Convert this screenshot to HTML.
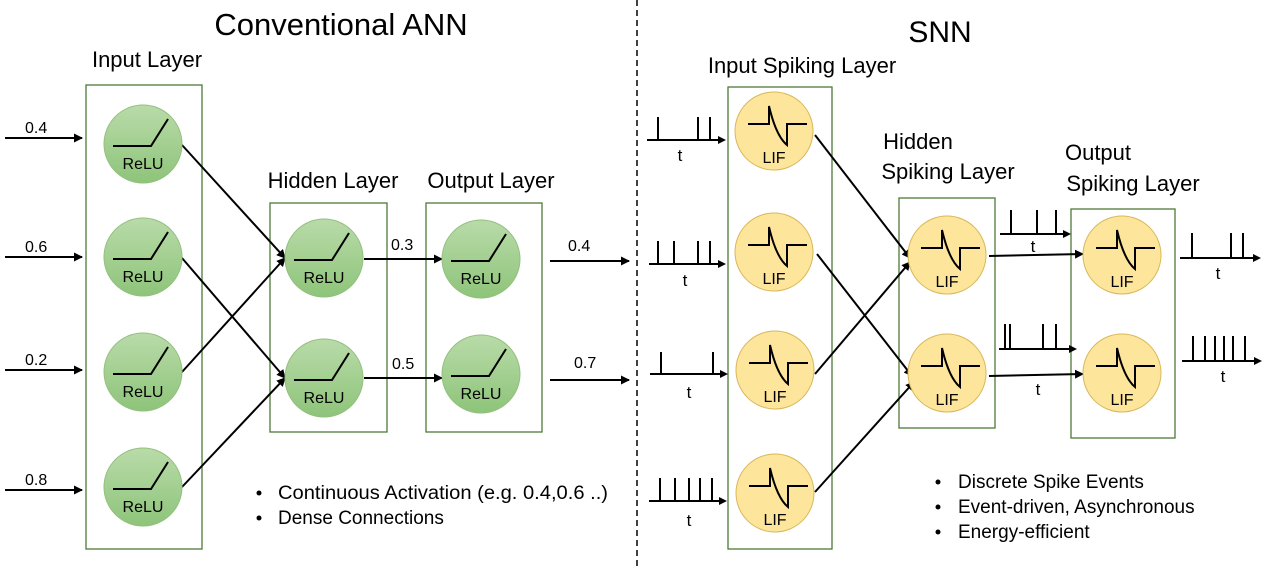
<!DOCTYPE html>
<html><head><meta charset="utf-8"><style>
html,body{margin:0;padding:0;background:#fff;}
svg{display:block;font-family:"Liberation Sans","DejaVu Sans",sans-serif;}
</style></head><body>
<svg width="1262" height="569" viewBox="0 0 1262 569" xmlns="http://www.w3.org/2000/svg">
<defs>
<linearGradient id="g" x1="0" y1="0" x2="0" y2="1"><stop offset="0" stop-color="#b9dba9"/><stop offset="1" stop-color="#8ec47a"/></linearGradient>
<marker id="a" markerWidth="9" markerHeight="9" refX="8" refY="4.5" orient="auto" markerUnits="userSpaceOnUse"><path d="M0,0 L9,4.5 L0,9 z" fill="#000"/></marker>
<g id="relu"><circle r="39" fill="url(#g)" stroke="#93c07f" stroke-width="1"/><path d="M-30,2 H8 L25,-25" fill="none" stroke="#000" stroke-width="2"/><text x="0" y="25" font-size="16" text-anchor="middle">ReLU</text></g>
<g id="lif"><circle r="39" fill="#fde59b" stroke="#d8b85a" stroke-width="1"/><path d="M-26,-7 H-5 V-25 Q2,5 13,14 V-7 H33" fill="none" stroke="#000" stroke-width="2"/><text x="0" y="32" font-size="16" text-anchor="middle">LIF</text></g>
</defs>
<line x1="637" y1="0" x2="637" y2="569" stroke="#000" stroke-width="1.5" stroke-dasharray="6,4"/>
<text x="341" y="35" font-size="31" text-anchor="middle">Conventional ANN</text>
<text x="940" y="42" font-size="30" text-anchor="middle">SNN</text>
<g font-size="22" text-anchor="middle">
<text x="147" y="67">Input Layer</text>
<text x="333" y="188">Hidden Layer</text>
<text x="491" y="188">Output Layer</text>
<text x="802" y="73">Input Spiking Layer</text>
<text x="918" y="149">Hidden</text>
<text x="948" y="179">Spiking Layer</text>
<text x="1098" y="160">Output</text>
<text x="1133" y="191">Spiking Layer</text>
</g>
<g fill="none" stroke="#4e7a37" stroke-width="1.3">
<rect x="86" y="85" width="116" height="464"/>
<rect x="270" y="203" width="117" height="229"/>
<rect x="426" y="203" width="116" height="229"/>
<rect x="728" y="87" width="104" height="462"/>
<rect x="899" y="198" width="96" height="230"/>
<rect x="1071" y="209" width="104" height="229"/>
</g>
<g stroke="#000" stroke-width="2" marker-end="url(#a)">
<line x1="5" y1="138" x2="82" y2="138"/><line x1="5" y1="257" x2="82" y2="257"/>
<line x1="5" y1="370" x2="82" y2="370"/><line x1="5" y1="490" x2="82" y2="490"/>
<line x1="182" y1="145" x2="285" y2="258"/><line x1="182" y1="258" x2="285" y2="378"/>
<line x1="182" y1="372" x2="285" y2="258"/><line x1="182" y1="487" x2="285" y2="378"/>
<line x1="364" y1="259" x2="442" y2="259"/><line x1="364" y1="378" x2="442" y2="378"/>
<line x1="550" y1="261" x2="629" y2="261"/><line x1="550" y1="380" x2="629" y2="380"/>
<line x1="815" y1="135" x2="910" y2="258"/><line x1="817" y1="254" x2="912" y2="376"/>
<line x1="815" y1="374" x2="910" y2="262"/><line x1="815" y1="492" x2="914" y2="382"/>
<line x1="989" y1="256" x2="1083" y2="254"/><line x1="989" y1="376" x2="1083" y2="374"/>
</g>
<g font-size="16">
<text x="25" y="133">0.4</text><text x="25" y="252">0.6</text><text x="25" y="365">0.2</text><text x="25" y="485">0.8</text>
<text x="391" y="250">0.3</text><text x="392" y="369">0.5</text>
<text x="568" y="251">0.4</text><text x="574" y="368">0.7</text>
</g>
<use href="#relu" x="143" y="144"/><use href="#relu" x="143" y="257"/><use href="#relu" x="143" y="372"/><use href="#relu" x="143" y="487"/>
<use href="#relu" x="324" y="258"/><use href="#relu" x="324" y="378"/>
<use href="#relu" x="481" y="259"/><use href="#relu" x="481" y="374"/>
<use href="#lif" x="774" y="131"/><use href="#lif" x="774" y="252"/><use href="#lif" x="775" y="370"/><use href="#lif" x="775" y="493"/>
<use href="#lif" x="947" y="255"/><use href="#lif" x="947" y="373"/>
<use href="#lif" x="1122" y="255"/><use href="#lif" x="1122" y="373"/>
<g stroke="#000" stroke-width="2" fill="none">
<path d="M647,140 H718 M658,140 V117 M698,140 V117 M710,140 V117"/>
<path d="M649,264 H718 M658,264 V241 M674,264 V241 M698,264 V241 M710,264 V241"/>
<path d="M650,374 H720 M661,374 V352 M713,374 V352"/>
<path d="M649,501 H719 M660,501 V478 M675,501 V478 M689,501 V478 M700,501 V478 M712,501 V478"/>
<path d="M1000,234 H1063 M1011,234 V210 M1037,234 V210 M1056,234 V210"/>
<path d="M999,349 H1069 M1005,349 V324 M1010,349 V324 M1043,349 V324 M1056,349 V324"/>
<path d="M1180,258 H1253 M1192,258 V233 M1231,258 V233 M1243,258 V233"/>
<path d="M1182,361 H1254 M1193,361 V336 M1205,361 V336 M1215,361 V336 M1224,361 V336 M1233,361 V336 M1245,361 V336"/>
</g>
<g fill="#000">
<path d="M718,136 L726,140 L718,144z"/><path d="M718,260 L726,264 L718,268z"/><path d="M720,370 L728,374 L720,378z"/><path d="M719,497 L727,501 L719,505z"/>
<path d="M1063,230 L1071,234 L1063,238z"/><path d="M1069,345 L1077,349 L1069,353z"/>
<path d="M1253,254 L1261,258 L1253,262z"/><path d="M1254,357 L1262,361 L1254,365z"/>
</g>
<g font-size="17" text-anchor="middle">
<text x="680" y="161">t</text><text x="685" y="286">t</text><text x="689" y="398">t</text><text x="689" y="526">t</text>
<text x="1033" y="252">t</text><text x="1038" y="395">t</text><text x="1218" y="279">t</text><text x="1223" y="382">t</text>
</g>
<g font-size="19">
<text x="278" y="499" textLength="330" lengthAdjust="spacingAndGlyphs">Continuous Activation (e.g. 0.4,0.6 ..)</text>
<text x="278" y="524">Dense Connections</text>
<text x="958" y="488">Discrete Spike Events</text>
<text x="958" y="513">Event-driven, Asynchronous</text>
<text x="958" y="538">Energy-efficient</text>
</g>
<g fill="#000">
<circle cx="259" cy="493" r="2.5"/><circle cx="259" cy="518" r="2.5"/>
<circle cx="938" cy="482" r="2.5"/><circle cx="938" cy="507" r="2.5"/><circle cx="938" cy="532" r="2.5"/>
</g>
</svg>
</body></html>
